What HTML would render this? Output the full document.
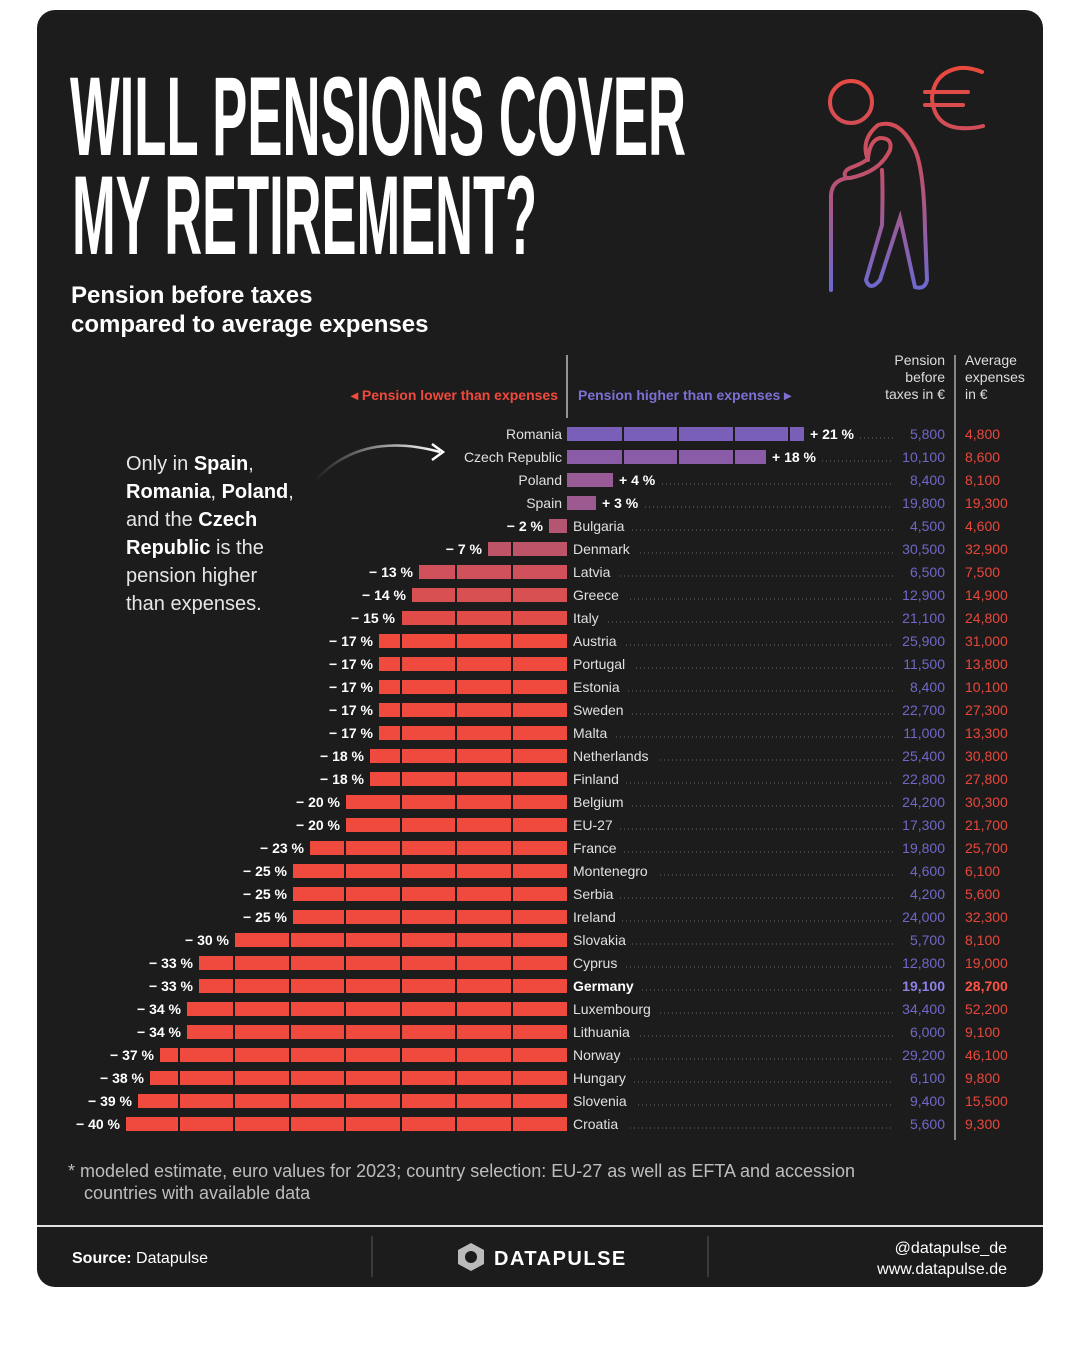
<!DOCTYPE html>
<html><head><meta charset="utf-8"><style>
html,body{margin:0;padding:0;background:#fff;}
svg{display:block;}
text{font-family:"Liberation Sans",sans-serif;}
.c{font-size:14px;fill:#e0e0e0;}
.p{font-size:14px;fill:#fff;font-weight:bold;}
.pv{font-size:14px;fill:#6f68c8;text-anchor:end;}
.ev{font-size:14px;fill:#e8483c;}
.ld{stroke:#6a6a6a;stroke-width:1;stroke-dasharray:1 3;}
.an{font-size:20px;fill:#e6e6e6;}
</style></head><body>
<svg width="1080" height="1350" viewBox="0 0 1080 1350" xmlns="http://www.w3.org/2000/svg">
<defs>
<linearGradient id="ig" x1="0" y1="70" x2="0" y2="292" gradientUnits="userSpaceOnUse">
<stop offset="0" stop-color="#ea4a3e"/><stop offset="0.45" stop-color="#c0506a"/><stop offset="1" stop-color="#6a6ad2"/></linearGradient>
<linearGradient id="ag" x1="0" y1="0" x2="1" y2="0"><stop offset="0" stop-color="#1c1c1c"/><stop offset="1" stop-color="#fff"/></linearGradient>
</defs>
<rect x="37" y="10" width="1006" height="1277" rx="18" fill="#1c1c1c"/>
<text x="70" y="155" textLength="616" lengthAdjust="spacingAndGlyphs" style="font-size:112px;font-weight:bold;fill:#fff">WILL PENSIONS COVER</text>
<text x="72" y="254" textLength="465" lengthAdjust="spacingAndGlyphs" style="font-size:112px;font-weight:bold;fill:#fff">MY RETIREMENT?</text>
<text x="71" y="303" style="font-size:24px;font-weight:bold;fill:#fff">Pension before taxes</text>
<text x="71" y="332" style="font-size:24px;font-weight:bold;fill:#fff">compared to average expenses</text>
<!-- icon -->
<g fill="none" stroke="url(#ig)" stroke-width="4" stroke-linecap="round">
<circle cx="851" cy="102" r="21"/>
<path d="M831 290 V195 Q832 180 848 178 L850 178 Q880 172 890 150 Q893 138 880 138 Q870 140 868 158 Q866 162 850 168 Q842 172 846 178 M868 160 Q860 140 878 125 Q900 118 915 150 Q924 170 925 230 L927 280 Q925 290 915 287 L900 218 L880 280 Q870 292 866 280 L882 225 Q883 190 882 170"/>
<path d="M982 72 Q970 67 960 68 Q934 72 932 98 Q934 126 960 128 Q972 129 983 126"/>
<line x1="925" y1="92" x2="968" y2="92"/><line x1="925" y1="105" x2="963" y2="105"/>
</g>
<!-- header -->
<line x1="567" y1="355" x2="567" y2="418" stroke="#bbb" stroke-width="1.5"/>
<line x1="955" y1="355" x2="955" y2="1140" stroke="#aaa" stroke-width="1.5"/>
<text x="558" y="400" text-anchor="end" style="font-size:14px;font-weight:bold;fill:#f04a3c">◂ Pension lower than expenses</text>
<text x="578" y="400" style="font-size:14px;font-weight:bold;fill:#7d70d4">Pension higher than expenses ▸</text>
<g style="font-size:14px;fill:#ddd">
<text x="945" y="365" text-anchor="end">Pension</text><text x="945" y="382" text-anchor="end">before</text><text x="945" y="399" text-anchor="end">taxes in €</text>
<text x="965" y="365">Average</text><text x="965" y="382">expenses</text><text x="965" y="399">in €</text>
</g>
<!-- bars -->
<g>
<rect x="567" y="427" width="237" height="14" fill="#7a5fb8"/>
<rect x="567" y="450" width="199" height="14" fill="#8a5ca8"/>
<rect x="567" y="473" width="46" height="14" fill="#985b96"/>
<rect x="567" y="496" width="29" height="14" fill="#9c5a90"/>
<rect x="549" y="519" width="18" height="14" fill="#b45672"/>
<rect x="488" y="542" width="79" height="14" fill="#be5468"/>
<rect x="419" y="565" width="148" height="14" fill="#d0505c"/>
<rect x="412" y="588" width="155" height="14" fill="#d85052"/>
<rect x="401" y="611" width="166" height="14" fill="#e24c48"/>
<g fill="#f04a3e">
<rect x="379" y="634" width="188" height="14"/>
<rect x="379" y="657" width="188" height="14"/>
<rect x="379" y="680" width="188" height="14"/>
<rect x="379" y="703" width="188" height="14"/>
<rect x="379" y="726" width="188" height="14"/>
<rect x="370" y="749" width="197" height="14"/>
<rect x="370" y="772" width="197" height="14"/>
<rect x="346" y="795" width="221" height="14"/>
<rect x="346" y="818" width="221" height="14"/>
<rect x="310" y="841" width="257" height="14"/>
<rect x="293" y="864" width="274" height="14"/>
<rect x="293" y="887" width="274" height="14"/>
<rect x="293" y="910" width="274" height="14"/>
<rect x="235" y="933" width="332" height="14"/>
<rect x="199" y="956" width="368" height="14"/>
<rect x="199" y="979" width="368" height="14"/>
<rect x="187" y="1002" width="380" height="14"/>
<rect x="187" y="1025" width="380" height="14"/>
<rect x="160" y="1048" width="407" height="14"/>
<rect x="150" y="1071" width="417" height="14"/>
<rect x="138" y="1094" width="429" height="14"/>
<rect x="126" y="1117" width="441" height="14"/>
</g>
</g>
<g stroke="#1c1c1c" stroke-width="2">
<line x1="623" y1="420" x2="623" y2="1135"/><line x1="678" y1="420" x2="678" y2="1135"/><line x1="734" y1="420" x2="734" y2="1135"/><line x1="789" y1="420" x2="789" y2="1135"/>
<line x1="512" y1="420" x2="512" y2="1135"/><line x1="456" y1="420" x2="456" y2="1135"/><line x1="401" y1="420" x2="401" y2="1135"/><line x1="345" y1="420" x2="345" y2="1135"/><line x1="290" y1="420" x2="290" y2="1135"/><line x1="234" y1="420" x2="234" y2="1135"/><line x1="179" y1="420" x2="179" y2="1135"/>
</g>
<!-- annotation -->
<text class="an" x="126" y="470">Only in <tspan font-weight="bold" fill="#fff">Spain</tspan>,</text>
<text class="an" x="126" y="498"><tspan font-weight="bold" fill="#fff">Romania</tspan>, <tspan font-weight="bold" fill="#fff">Poland</tspan>,</text>
<text class="an" x="126" y="526">and the <tspan font-weight="bold" fill="#fff">Czech</tspan></text>
<text class="an" x="126" y="554"><tspan font-weight="bold" fill="#fff">Republic</tspan> is the</text>
<text class="an" x="126" y="582">pension higher</text>
<text class="an" x="126" y="610">than expenses.</text>
<path d="M314 482 Q360 430 440 452" fill="none" stroke="url(#ag)" stroke-width="2.5"/>
<path d="M432 444 L443 452 L432 460" fill="none" stroke="#fff" stroke-width="2.5"/>
<!-- positive rows -->
<text class="c" x="562" y="439" text-anchor="end">Romania</text><text class="p" x="810" y="439">+ 21 %</text><line class="ld" x1="860" y1="438" x2="893" y2="438"/><text class="pv" x="945" y="439">5,800</text><text class="ev" x="965" y="439">4,800</text>
<text class="c" x="562" y="462" text-anchor="end">Czech Republic</text><text class="p" x="772" y="462">+ 18 %</text><line class="ld" x1="822" y1="461" x2="893" y2="461"/><text class="pv" x="945" y="462">10,100</text><text class="ev" x="965" y="462">8,600</text>
<text class="c" x="562" y="485" text-anchor="end">Poland</text><text class="p" x="619" y="485">+ 4 %</text><line class="ld" x1="662" y1="484" x2="893" y2="484"/><text class="pv" x="945" y="485">8,400</text><text class="ev" x="965" y="485">8,100</text>
<text class="c" x="562" y="508" text-anchor="end">Spain</text><text class="p" x="602" y="508">+ 3 %</text><line class="ld" x1="645" y1="507" x2="893" y2="507"/><text class="pv" x="945" y="508">19,800</text><text class="ev" x="965" y="508">19,300</text>
<!-- negative rows -->
<g class="p" text-anchor="end">
<text x="543" y="531">− 2 %</text><text x="482" y="554">− 7 %</text><text x="413" y="577">− 13 %</text><text x="406" y="600">− 14 %</text><text x="395" y="623">− 15 %</text>
<text x="373" y="646">− 17 %</text><text x="373" y="669">− 17 %</text><text x="373" y="692">− 17 %</text><text x="373" y="715">− 17 %</text><text x="373" y="738">− 17 %</text>
<text x="364" y="761">− 18 %</text><text x="364" y="784">− 18 %</text><text x="340" y="807">− 20 %</text><text x="340" y="830">− 20 %</text><text x="304" y="853">− 23 %</text>
<text x="287" y="876">− 25 %</text><text x="287" y="899">− 25 %</text><text x="287" y="922">− 25 %</text><text x="229" y="945">− 30 %</text><text x="193" y="968">− 33 %</text>
<text x="193" y="991">− 33 %</text><text x="181" y="1014">− 34 %</text><text x="181" y="1037">− 34 %</text><text x="154" y="1060">− 37 %</text><text x="144" y="1083">− 38 %</text>
<text x="132" y="1106">− 39 %</text><text x="120" y="1129">− 40 %</text>
</g>
<g class="c">
<text x="573" y="531">Bulgaria</text><text x="573" y="554">Denmark</text><text x="573" y="577">Latvia</text><text x="573" y="600">Greece</text><text x="573" y="623">Italy</text>
<text x="573" y="646">Austria</text><text x="573" y="669">Portugal</text><text x="573" y="692">Estonia</text><text x="573" y="715">Sweden</text><text x="573" y="738">Malta</text>
<text x="573" y="761">Netherlands</text><text x="573" y="784">Finland</text><text x="573" y="807">Belgium</text><text x="573" y="830">EU-27</text><text x="573" y="853">France</text>
<text x="573" y="876">Montenegro</text><text x="573" y="899">Serbia</text><text x="573" y="922">Ireland</text><text x="573" y="945">Slovakia</text><text x="573" y="968">Cyprus</text>
<text x="573" y="991" font-weight="bold" fill="#fff">Germany</text><text x="573" y="1014">Luxembourg</text><text x="573" y="1037">Lithuania</text><text x="573" y="1060">Norway</text><text x="573" y="1083">Hungary</text>
<text x="573" y="1106">Slovenia</text><text x="573" y="1129">Croatia</text>
</g>
<g class="ld">
<line x1="632" y1="530" x2="893" y2="530"/><line x1="640" y1="553" x2="893" y2="553"/><line x1="620" y1="576" x2="893" y2="576"/><line x1="630" y1="599" x2="893" y2="599"/><line x1="608" y1="622" x2="893" y2="622"/>
<line x1="626" y1="645" x2="893" y2="645"/><line x1="636" y1="668" x2="893" y2="668"/><line x1="628" y1="691" x2="893" y2="691"/><line x1="632" y1="714" x2="893" y2="714"/><line x1="616" y1="737" x2="893" y2="737"/>
<line x1="660" y1="760" x2="893" y2="760"/><line x1="626" y1="783" x2="893" y2="783"/><line x1="632" y1="806" x2="893" y2="806"/><line x1="620" y1="829" x2="893" y2="829"/><line x1="624" y1="852" x2="893" y2="852"/>
<line x1="660" y1="875" x2="893" y2="875"/><line x1="620" y1="898" x2="893" y2="898"/><line x1="622" y1="921" x2="893" y2="921"/><line x1="632" y1="944" x2="893" y2="944"/><line x1="626" y1="967" x2="893" y2="967"/>
<line x1="642" y1="990" x2="893" y2="990"/><line x1="660" y1="1013" x2="893" y2="1013"/><line x1="640" y1="1036" x2="893" y2="1036"/><line x1="630" y1="1059" x2="893" y2="1059"/><line x1="634" y1="1082" x2="893" y2="1082"/>
<line x1="638" y1="1105" x2="893" y2="1105"/><line x1="630" y1="1128" x2="893" y2="1128"/>
</g>
<g class="pv">
<text x="945" y="531">4,500</text><text x="945" y="554">30,500</text><text x="945" y="577">6,500</text><text x="945" y="600">12,900</text><text x="945" y="623">21,100</text>
<text x="945" y="646">25,900</text><text x="945" y="669">11,500</text><text x="945" y="692">8,400</text><text x="945" y="715">22,700</text><text x="945" y="738">11,000</text>
<text x="945" y="761">25,400</text><text x="945" y="784">22,800</text><text x="945" y="807">24,200</text><text x="945" y="830">17,300</text><text x="945" y="853">19,800</text>
<text x="945" y="876">4,600</text><text x="945" y="899">4,200</text><text x="945" y="922">24,000</text><text x="945" y="945">5,700</text><text x="945" y="968">12,800</text>
<text x="945" y="991" font-weight="bold" fill="#8a80e6">19,100</text><text x="945" y="1014">34,400</text><text x="945" y="1037">6,000</text><text x="945" y="1060">29,200</text><text x="945" y="1083">6,100</text>
<text x="945" y="1106">9,400</text><text x="945" y="1129">5,600</text>
</g>
<g class="ev">
<text x="965" y="531">4,600</text><text x="965" y="554">32,900</text><text x="965" y="577">7,500</text><text x="965" y="600">14,900</text><text x="965" y="623">24,800</text>
<text x="965" y="646">31,000</text><text x="965" y="669">13,800</text><text x="965" y="692">10,100</text><text x="965" y="715">27,300</text><text x="965" y="738">13,300</text>
<text x="965" y="761">30,800</text><text x="965" y="784">27,800</text><text x="965" y="807">30,300</text><text x="965" y="830">21,700</text><text x="965" y="853">25,700</text>
<text x="965" y="876">6,100</text><text x="965" y="899">5,600</text><text x="965" y="922">32,300</text><text x="965" y="945">8,100</text><text x="965" y="968">19,000</text>
<text x="965" y="991" font-weight="bold" fill="#ff5444">28,700</text><text x="965" y="1014">52,200</text><text x="965" y="1037">9,100</text><text x="965" y="1060">46,100</text><text x="965" y="1083">9,800</text>
<text x="965" y="1106">15,500</text><text x="965" y="1129">9,300</text>
</g>
<!-- footnote -->
<text x="68" y="1177" style="font-size:18px;fill:#bdbdbd">* modeled estimate, euro values for 2023; country selection: EU-27 as well as EFTA and accession</text>
<text x="84" y="1199" style="font-size:18px;fill:#bdbdbd">countries with available data</text>
<!-- footer -->
<rect x="37" y="1225" width="1006" height="2" fill="#e0e0e0"/>
<line x1="372" y1="1236" x2="372" y2="1277" stroke="#444" stroke-width="1.5"/>
<line x1="708" y1="1236" x2="708" y2="1277" stroke="#444" stroke-width="1.5"/>
<text x="72" y="1263" style="font-size:16px;fill:#fff"><tspan font-weight="bold">Source:</tspan> Datapulse</text>
<polygon points="471,1243 484,1250 484,1264 471,1271 458,1264 458,1250" fill="#bbb"/>
<circle cx="471" cy="1257" r="6" fill="#1c1c1c"/>
<text x="494" y="1265" style="font-size:20px;font-weight:bold;fill:#fff;letter-spacing:1.5px">DATAPULSE</text>
<text x="1007" y="1253" text-anchor="end" style="font-size:16px;fill:#fff">@datapulse_de</text>
<text x="1007" y="1274" text-anchor="end" style="font-size:16px;fill:#fff">www.datapulse.de</text>
</svg>
</body></html>
